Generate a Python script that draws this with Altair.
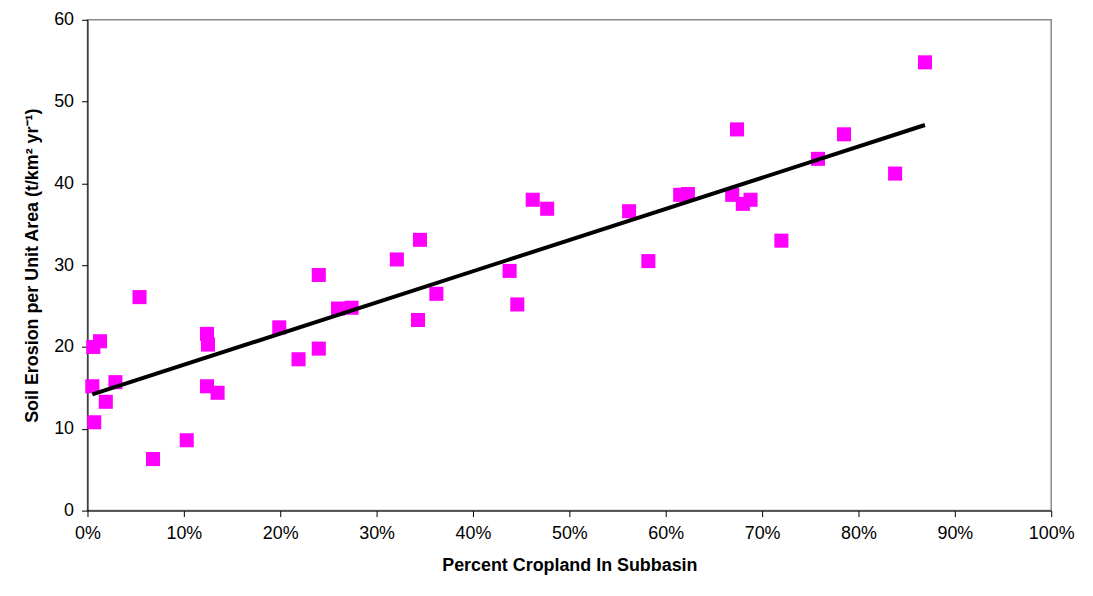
import altair as alt
import pandas as pd

# Percent cropland (fraction) and soil erosion (t/km2/yr)
cropland = [0.005, 0.006, 0.007, 0.013, 0.019, 0.029, 0.054, 0.068, 0.103, 0.124, 0.125,
            0.124, 0.135, 0.199, 0.219, 0.240, 0.240, 0.260, 0.274, 0.321, 0.345, 0.343,
            0.362, 0.438, 0.446, 0.462, 0.477, 0.562, 0.582, 0.615, 0.623, 0.669, 0.674,
            0.680, 0.688, 0.720, 0.758, 0.785, 0.838, 0.869]
erosion = [15.2, 20.0, 10.8, 20.7, 13.3, 15.7, 26.1, 6.3, 8.6, 21.6, 20.3,
           15.2, 14.4, 22.4, 18.5, 28.8, 19.8, 24.7, 24.8, 30.7, 33.1, 23.3,
           26.5, 29.3, 25.2, 38.0, 36.9, 36.6, 30.5, 38.6, 38.7, 38.6, 46.6,
           37.5, 38.0, 33.0, 43.0, 46.0, 41.2, 54.8]

df = pd.DataFrame({'crop': cropland, 'erosion': erosion})

base = alt.Chart(df)

x = alt.X('crop:Q', title='Percent Cropland In Subbasin',
          scale=alt.Scale(domain=[0, 1], nice=False),
          axis=alt.Axis(format='.0%', values=[i / 10 for i in range(11)], grid=False,
                        labelFlush=False, labelPadding=8,
                        labelFontSize=18, titleFontSize=18, titlePadding=14))
y = alt.Y('erosion:Q', title='Soil Erosion per Unit Area (t/km² yr⁻¹)',
          scale=alt.Scale(domain=[0, 60], nice=False),
          axis=alt.Axis(values=list(range(0, 61, 10)), grid=False,
                        labelFlush=False, labelPadding=8,
                        labelFontSize=18, titleFontSize=18, titlePadding=12))

points = base.mark_square(color='#ff00ff', size=200, opacity=1).encode(x=x, y=y)

line = base.transform_regression('crop', 'erosion').mark_line(
    color='black', strokeWidth=4).encode(x='crop:Q', y='erosion:Q')

chart = (points + line).properties(
    width=970, height=494,
    autosize=alt.AutoSizeParams(type='none'),
    padding={'left': 80, 'top': 10, 'right': 34, 'bottom': 70},
    background='white',
).configure_axis(
    labelFont='Liberation Sans', titleFont='Liberation Sans',
    labelColor='black', titleColor='black', titleFontWeight='bold',
    domainColor='black', tickColor='black', tickSize=6,
).configure_view(stroke='#888888', strokeWidth=1.5)

chart.save("out.html", embed_options={"renderer": "svg", "actions": False})
